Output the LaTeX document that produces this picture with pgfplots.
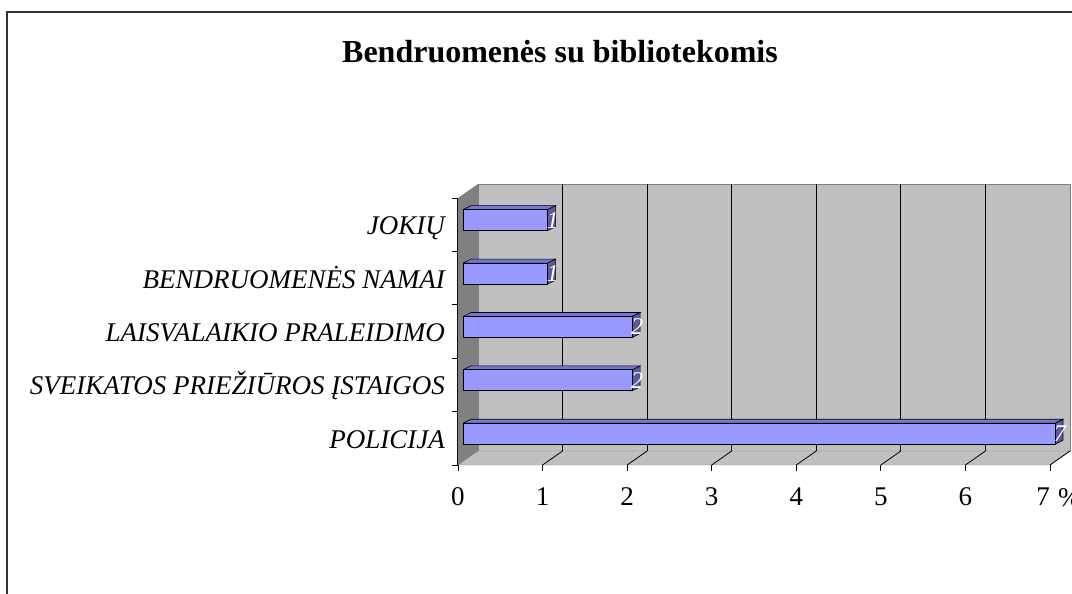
\documentclass[border=0pt]{standalone}
\usepackage{fontspec}
\setmainfont{Liberation Serif}
\usepackage{pgfplots}
\pgfplotsset{compat=1.18}
\usepackage{pgfplotstable}
\definecolor{barfront}{HTML}{9999FF}
\definecolor{bartop}{HTML}{7676D2}
\definecolor{barside}{HTML}{5A5A9C}
\definecolor{wall}{HTML}{C0C0C0}
\definecolor{sidewall}{HTML}{808080}

\pgfplotstableread{
c v
0.5 7
1.5 2
2.5 2
3.5 1
4.5 1
}\datatab

\begin{document}
\begin{tikzpicture}[x=1pt,y=1pt]
\useasboundingbox (0,0) rectangle (1072,594);
\fill[white] (0,0) rectangle (1072,594);
\draw[line width=2pt, black!80] (7,-10) -- (7,582) -- (1090,582);
\node[font=\bfseries\fontsize{32}{38}\selectfont, anchor=base] at (560,531) {Bendruomenės su bibliotekomis};
\node[font=\fontsize{27}{30}\selectfont, anchor=base west, inner sep=0pt] at (1058,87) {\%};
\begin{axis}[
  at={(458pt,129pt)}, anchor=south west,
  scale only axis, width=592pt, height=267pt,
  xmin=0, xmax=7, ymin=0, ymax=5,
  clip=false,
  axis lines*=left,
  axis line style={black, line width=1pt},
  tick align=outside, major tick length=6pt,
  tick style={black, line width=0.8pt},
  xtick={0,...,7},
  xticklabels={0,1,2,3,4,5,6,{\hbox to 0pt{\hss 7}}},
  xticklabel style={font=\fontsize{27}{30}\selectfont, anchor=base, yshift=-35pt},
  ytick={0,...,5}, yticklabels={},
  extra y ticks={0.5,1.5,2.5,3.5,4.5},
  extra y tick labels={POLICIJA, SVEIKATOS PRIEŽIŪROS ĮSTAIGOS\hspace{0.25em}, LAISVALAIKIO PRALEIDIMO, BENDRUOMENĖS NAMAI\hspace{0.25em}, JOKIŲ\hspace{0.25em}},
  extra y tick style={major tick length=0pt, yticklabel style={font=\itshape\fontsize{27}{30}\selectfont, inner sep=0pt, anchor=base east, xshift=-13pt, yshift=-10pt}},
  unbounded coords=jump,
]
% walls
\fill[sidewall] (axis cs:0,0) -- (axis cs:0,5) -- ([shift={(20pt,14pt)}]axis cs:0,5) -- ([shift={(20pt,14pt)}]axis cs:0,0) -- cycle;
\filldraw[fill=wall, draw=gray] ([shift={(20pt,14pt)}]axis cs:0,0) rectangle ([shift={(20pt,14pt)}]axis cs:7,5);
\filldraw[fill=wall, draw=gray] (axis cs:0,0) -- (axis cs:7,0) -- ([shift={(20pt,14pt)}]axis cs:7,0) -- ([shift={(20pt,14pt)}]axis cs:0,0) -- cycle;
\pgfplotsinvokeforeach{1,...,6}{
  \draw[black, line width=0.8pt] ([shift={(20pt,14pt)}]axis cs:#1,0) -- ([shift={(20pt,14pt)}]axis cs:#1,5);
}
\pgfplotsinvokeforeach{1,...,7}{
  \draw[black, line width=0.8pt] (axis cs:#1,0) -- ([shift={(20pt,14pt)}]axis cs:#1,0);
}
% bar top faces
\addplot[fill=bartop, draw=black, line width=0.6pt, xshift=5pt, yshift=4.5pt] table {
x y
0 0.6966
7 0.6966
7.0946 0.7715
0.0946 0.7715
0 0.6966
nan nan
0 1.6966
2 1.6966
2.0946 1.7715
0.0946 1.7715
0 1.6966
nan nan
0 2.6966
2 2.6966
2.0946 2.7715
0.0946 2.7715
0 2.6966
nan nan
0 3.6966
1 3.6966
1.0946 3.7715
0.0946 3.7715
0 3.6966
nan nan
0 4.6966
1 4.6966
1.0946 4.7715
0.0946 4.7715
0 4.6966
};
% bar right faces
\addplot[fill=barside, draw=black, line width=0.6pt, xshift=5pt, yshift=4.5pt] table {
x y
7 0.3034
7.0946 0.3783
7.0946 0.7715
7 0.6966
7 0.3034
nan nan
2 1.3034
2.0946 1.3783
2.0946 1.7715
2 1.6966
2 1.3034
nan nan
2 2.3034
2.0946 2.3783
2.0946 2.7715
2 2.6966
2 2.3034
nan nan
1 3.3034
1.0946 3.3783
1.0946 3.7715
1 3.6966
1 3.3034
nan nan
1 4.3034
1.0946 4.3783
1.0946 4.7715
1 4.6966
1 4.3034
};
% bar front faces
\addplot[xbar, bar width=21pt, bar shift=0pt, fill=barfront, draw=black, line width=0.8pt,
  xshift=5pt, yshift=4.5pt, point meta=explicit,
  nodes near coords={\pgfmathprintnumber[assume math mode=true]{\pgfplotspointmeta}},
  nodes near coords style={anchor=center, xshift=5pt, text=white, inner sep=0pt, font=\itshape\fontsize{24}{26}\selectfont}]
  table[x=v, y=c, meta=v] {\datatab};
\end{axis}
\end{tikzpicture}
\end{document}
